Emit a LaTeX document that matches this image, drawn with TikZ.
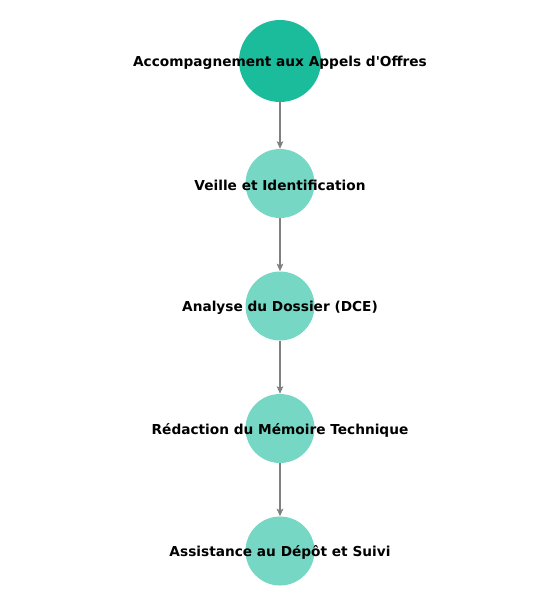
\documentclass[tikz,border=0pt]{standalone}
\usepackage{fontspec}
\setmainfont{DejaVu Sans}[Ligatures=TeXOff]
\usepackage{xcolor}
\usetikzlibrary{arrows.meta, positioning}

\definecolor{maincol}{HTML}{1ABC9C}
\definecolor{stepcol}{HTML}{76D7C4}

\begin{document}
\begin{tikzpicture}[
    x=1bp, y=1bp,
    node distance=122.5bp,
    main/.style={circle, fill=maincol, minimum size=82bp, inner sep=0pt},
    stage/.style={circle, fill=stepcol, minimum size=69bp, inner sep=0pt},
    lbl/.style={font=\fontsize{13.7bp}{16bp}\selectfont\bfseries, text=black, yshift=-1.5bp},
    arrow/.style={-{Stealth[length=7.5bp, width=6.5bp, inset=1.5bp]}, gray, line width=2bp}
]
\useasboundingbox (0,0) rectangle (560,-613);

\node[main] (ao) at (280,-61) {};
\node[stage, below of=ao] (veille) {};
\node[stage, below of=veille] (dce) {};
\node[stage, below of=dce] (memoire) {};
\node[stage, below of=memoire] (depot) {};

\draw[arrow] (ao) -- (veille);
\draw[arrow] (veille) -- (dce);
\draw[arrow] (dce) -- (memoire);
\draw[arrow] (memoire) -- (depot);

% labels over the circles
\node[lbl] at (ao) {Accompagnement aux Appels d'Offres};
\node[lbl] at (veille) {Veille et Identification};
\node[lbl] at (dce) {Analyse du Dossier (DCE)};
\node[lbl] at (memoire) {Rédaction du Mémoire Technique};
\node[lbl] at (depot) {Assistance au Dépôt et Suivi};

\end{tikzpicture}
\end{document}
